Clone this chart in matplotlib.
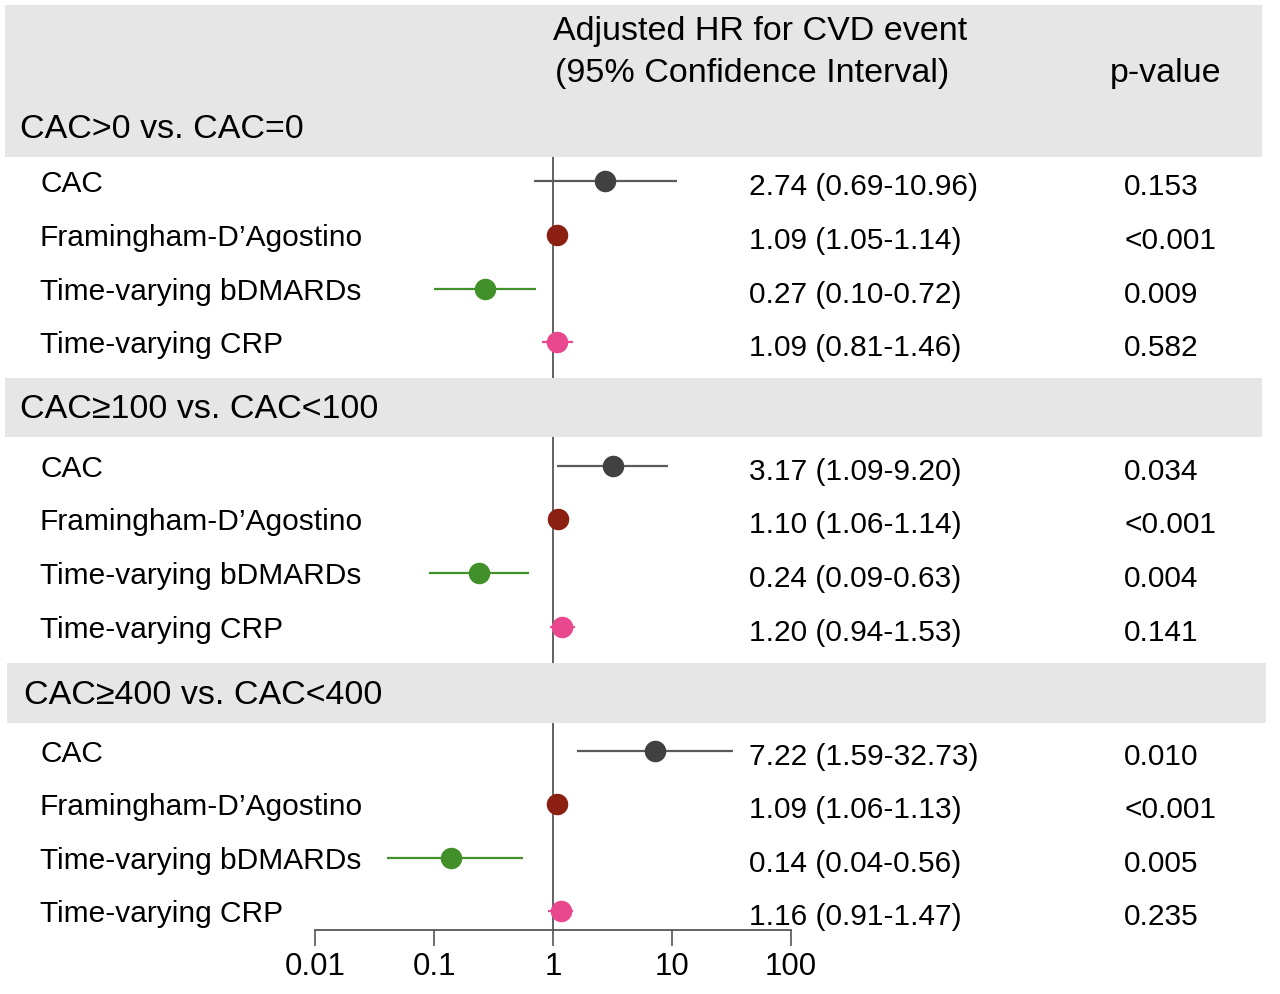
import matplotlib
matplotlib.use("Agg")
import matplotlib.pyplot as plt
from matplotlib.patches import Rectangle

plt.rcParams['font.family'] = ['Liberation Sans', 'DejaVu Sans']

# ---- data ----
groups = ["CAC>0 vs. CAC=0", "CAC\u2265100 vs. CAC<100", "CAC\u2265400 vs. CAC<400"]
variables = ["CAC", "Framingham-D\u2019Agostino", "Time-varying bDMARDs", "Time-varying CRP"]
hr = [[2.74, 1.09, 0.27, 1.09],
      [3.17, 1.10, 0.24, 1.20],
      [7.22, 1.09, 0.14, 1.16]]
ci_lo = [[0.69, 1.05, 0.10, 0.81],
         [1.09, 1.06, 0.09, 0.94],
         [1.59, 1.06, 0.04, 0.91]]
ci_hi = [[10.96, 1.14, 0.72, 1.46],
         [9.20, 1.14, 0.63, 1.53],
         [32.73, 1.13, 0.56, 1.47]]
pvals = [["0.153", "<0.001", "0.009", "0.582"],
         ["0.034", "<0.001", "0.004", "0.141"],
         ["0.010", "<0.001", "0.005", "0.235"]]
xticks = [0.01, 0.1, 1, 10, 100]
xticklabels = ["0.01", "0.1", "1", "10", "100"]

# ---- layout (pixel coordinates) ----
W, H = 1280, 994
row_y = [[181, 235, 289, 342], [466, 519, 573, 627], [751, 804, 858, 911]]
band_y = [(5, 157), (378, 437), (663, 723)]
band_x = [(5, 1262), (5, 1262), (7, 1266)]
group_title_pos = [(20, 126), (20, 406), (24, 692)]
colors_dot = ["#414141", "#8a1f12", "#42902a", "#e9488f"]
colors_line = ["#5a5a5a", "#8a1f12", "#42902a", "#e9488f"]
band_color = "#e7e6e6"
axis_y = 930
x_left, x_right = 315, 791

fig = plt.figure(figsize=(W / 100, H / 100), dpi=100)

# forest axes
ax = fig.add_axes([x_left / W, (H - axis_y) / H, (x_right - x_left) / W, axis_y / H])
ax.set_xscale('log')
ax.set_xlim(0.01, 100)
ax.set_ylim(axis_y, 0)
ax.patch.set_visible(False)
for s in ['top', 'right', 'left']:
    ax.spines[s].set_visible(False)
ax.spines['bottom'].set_color('#555555')
ax.spines['bottom'].set_linewidth(1.3)
ax.set_yticks([])
ax.set_xticks(xticks)
ax.set_xticklabels(xticklabels)
ax.xaxis.set_minor_locator(matplotlib.ticker.NullLocator())
ax.tick_params(axis='x', direction='out', length=11.5, width=1.2, color='#555555',
               labelsize=22.5, pad=4, labelcolor='black')

ax.plot([1, 1], [band_y[0][1], axis_y], color='#555555', lw=1.3, zorder=1)

for g in range(3):
    for i in range(4):
        y = row_y[g][i]
        ax.plot([ci_lo[g][i], ci_hi[g][i]], [y, y], color=colors_line[i], lw=1.6,
                solid_capstyle='butt', zorder=2, clip_on=False)
        ax.plot([hr[g][i]], [y], 'o', color=colors_dot[i], markersize=15.5,
                markeredgewidth=0, zorder=3, clip_on=False)

# overlay axes for bands and text
ov = fig.add_axes([0, 0, 1, 1], zorder=5)
ov.patch.set_visible(False)
ov.set_xlim(0, W)
ov.set_ylim(H, 0)
ov.axis('off')

for (x0, x1), (y0, y1) in zip(band_x, band_y):
    ov.add_patch(Rectangle((x0, y0), x1 - x0, y1 - y0, facecolor=band_color,
                           edgecolor='none', zorder=0))

ov.text(553, 28 + 12, "Adjusted HR for CVD event", fontsize=24.5, ha='left', va='baseline')
ov.text(555, 70 + 12, "(95% Confidence Interval)", fontsize=24.5, ha='left', va='baseline')
ov.text(1110, 70 + 12, "p-value", fontsize=24.5, ha='left', va='baseline')

for g in range(3):
    gx, gy = group_title_pos[g]
    ov.text(gx, gy + 12, groups[g], fontsize=24.5, ha='left', va='baseline')
    for i in range(4):
        y = row_y[g][i]
        ov.text(40, y + 11, variables[i], fontsize=21.5, ha='left', va='baseline')
        txt = f"{hr[g][i]:.2f} ({ci_lo[g][i]:.2f}-{ci_hi[g][i]:.2f})"
        ov.text(749, y + 14, txt, fontsize=21.5, ha='left', va='baseline')
        ov.text(1124, y + 14, pvals[g][i], fontsize=21.5, ha='left', va='baseline')

fig.savefig("out.png", dpi=100)
